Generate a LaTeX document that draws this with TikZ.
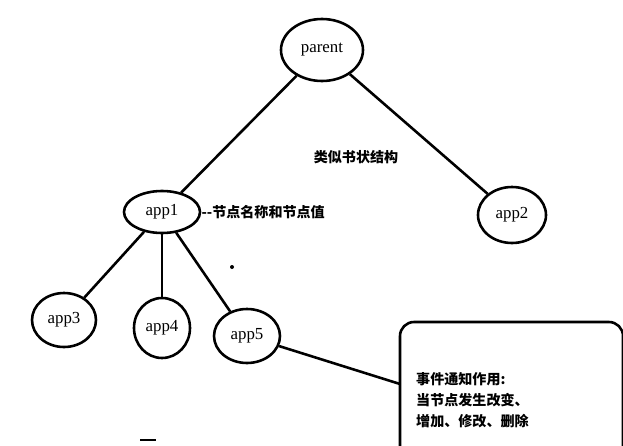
\documentclass[tikz,border=0pt]{standalone}
\usepackage{fontspec}
\setmainfont{Liberation Serif}
\newfontfamily\cjk{Noto Sans CJK SC}
\usetikzlibrary{shapes.geometric}
\begin{document}
\begin{tikzpicture}[x=0.03cm,y=-0.03cm,
  leaf/.style={draw,ellipse,line width=2.2pt,inner sep=0pt,font=\Large},
  edge/.style={line width=2.2pt}]
\useasboundingbox (0,0) rectangle (623,445);
% tree nodes
\node[leaf,minimum width=2.46cm,minimum height=1.86cm] (parent) at (322,50) {parent};
\node[leaf,minimum width=2.28cm,minimum height=1.26cm] (app1) at (162,212) {app1};
\node[leaf,minimum width=2.04cm,minimum height=1.68cm] (app2) at (512,215) {app2};
\node[leaf,minimum width=1.92cm,minimum height=1.62cm] (app3) at (64,320) {app3};
\node[leaf,minimum width=1.68cm,minimum height=1.8cm] (app4) at (162,328) {app4};
\node[leaf,minimum width=1.98cm,minimum height=1.62cm] (app5) at (247,336) {app5};
% notes
\node[font=\cjk\bfseries\large] (shape) at (356,157) {类似书状结构};
\node[font=\cjk\bfseries\large,anchor=west,inner sep=0pt] (name) at (app1.east) {--节点名称和节点值};
\draw[line width=2.2pt,rounded corners=12] (400,460) -- (400,322) -- (623,322) -- (623,460);
\node[font=\cjk\bfseries\large,anchor=north west,align=left,inner sep=0pt] (event) at (416,372)
  {事件通知作用:\\[4pt]当节点发生改变、\\[4pt]增加、修改、删除};
\coordinate (box) at (400,384);
\fill (232,267) circle (2);
\draw[line width=1.5pt] (140,440) -- (156,440);
% connectors
\draw[edge] (parent) -- (app1);
\draw[edge] (parent) -- (app2);
\draw[edge] (app1) -- (app3);
\draw[edge] (app1) -- (app4);
\draw[edge] (app1) -- (app5);
\draw[edge] (app5) -- (box);
\end{tikzpicture}
\end{document}
